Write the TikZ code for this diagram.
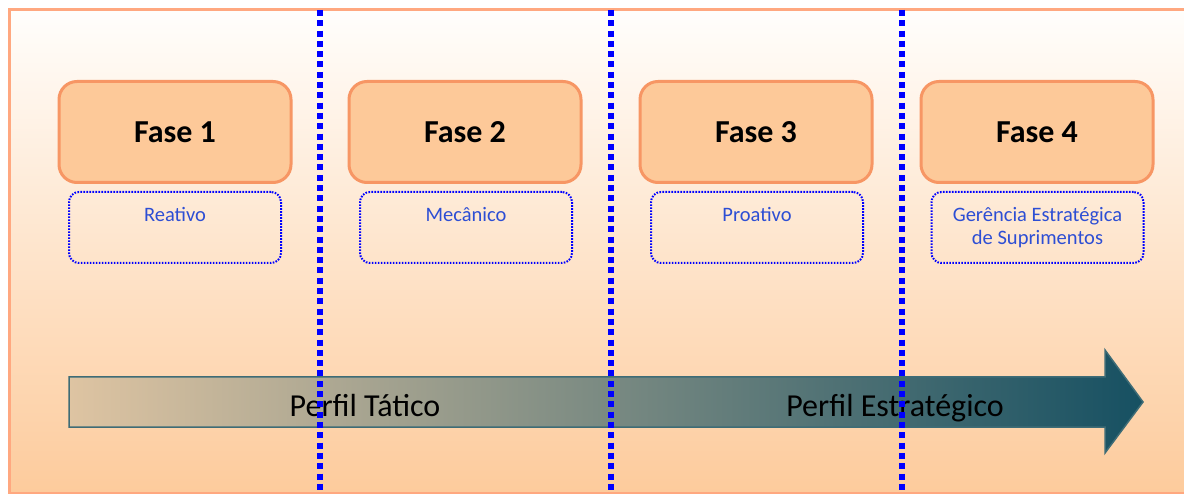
\documentclass[tikz,border=0pt]{standalone}
\usepackage{fontspec}
\setmainfont{Carlito}
\definecolor{pagewhite}{RGB}{255,254,252}
\definecolor{peach}{RGB}{253,203,156}
\definecolor{framecol}{RGB}{255,168,128}
\definecolor{phasefill}{RGB}{253,201,153}
\definecolor{phaseline}{RGB}{247,150,100}
\definecolor{guideblue}{RGB}{0,0,255}
\definecolor{subblue}{RGB}{45,78,212}
\definecolor{arrowtan}{RGB}{222,196,162}
\definecolor{arrowteal}{RGB}{22,80,98}
\definecolor{arrowedge}{RGB}{62,108,118}
\tikzset{
  phasebox/.style={draw=phaseline, line width=3pt, fill=phasefill,
    rounded corners=18pt, minimum width=232pt, minimum height=101pt,
    inner sep=0pt, font=\fontsize{32}{38}\selectfont\bfseries},
  subbox/.style={draw=guideblue, line width=2pt, dash pattern=on 1.6pt off 1.4pt,
    rounded corners=10pt, minimum width=212pt, minimum height=71pt, inner sep=0pt},
  subtext/.style={anchor=north, inner sep=0pt, align=center, text=subblue,
    font=\fontsize{20.5}{23}\selectfont},
  guide/.style={draw=guideblue, line width=6pt, dash pattern=on 6pt off 4.3pt},
  profile/.style={anchor=base, inner sep=0pt, font=\fontsize{32}{38}\selectfont}
}
\newcommand{\firstline}{\rule{0pt}{17pt}}
\begin{document}
\begin{tikzpicture}[x=1pt, y=-1pt]
  \useasboundingbox (0,0) rectangle (1184,494);
  \clip (0,0) rectangle (1184,494);
  \fill[white] (0,0) rectangle (1184,494);

  % panel with vertical gradient
  \shade[top color=pagewhite, bottom color=peach] (9,10) rectangle (1192,493);
  \draw[framecol, line width=3pt] (9,10) rectangle (1192,493);

  % phase boxes
  \node[phasebox] (f1) at (175,132) {Fase 1};
  \node[phasebox] (f2) at (465,132) {Fase 2};
  \node[phasebox] (f3) at (756,132) {Fase 3};
  \node[phasebox] (f4) at (1037,132) {Fase 4};

  % descriptions under each phase
  \node[subbox] (s1) at (175,227.5) {};
  \node[subbox] (s2) at (466,227.5) {};
  \node[subbox] (s3) at (757,227.5) {};
  \node[subbox] (s4) at (1037.5,227.5) {};
  \node[subtext] (t1) at (175,204) {\firstline Reativo};
  \node[subtext] (t2) at (466,204) {\firstline Mecânico};
  \node[subtext] (t3) at (757,204) {\firstline Proativo};
  \node[subtext] (t4) at (1037.5,204) {\firstline Gerência Estratégica\\de Suprimentos};

  % progression arrow
  \shade[left color=arrowtan, right color=arrowteal, draw=arrowedge, line width=1.5pt]
    (69,377) -- (1105,377) -- (1105,350) -- (1143,402) -- (1105,453)
    -- (1105,427) -- (69,427) -- cycle;
  \node[profile] (p1) at (365,417) {Perfil Tático};
  \node[profile] (p2) at (895,417) {Perfil Estratégico};

  % phase separators
  \coordinate (g1a) at (320,10);  \coordinate (g1b) at (320,494);
  \coordinate (g2a) at (611,10);  \coordinate (g2b) at (611,494);
  \coordinate (g3a) at (902,10);  \coordinate (g3b) at (902,494);
  \draw[guide] (g1a) -- (g1b);
  \draw[guide] (g2a) -- (g2b);
  \draw[guide] (g3a) -- (g3b);
\end{tikzpicture}
\end{document}
